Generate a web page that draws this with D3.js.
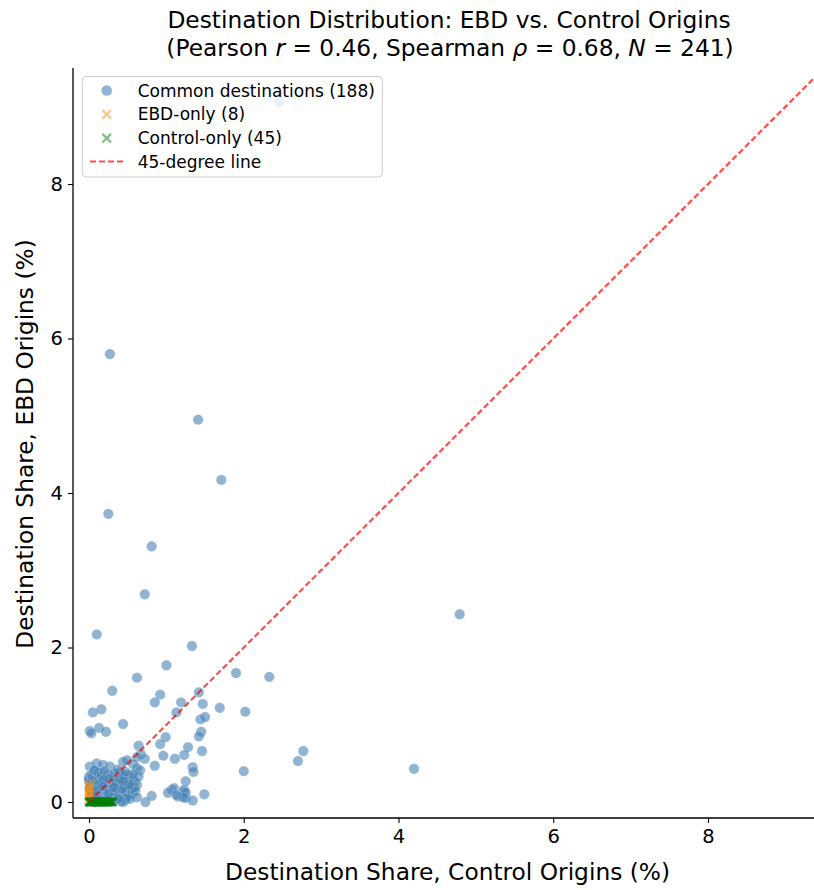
<!DOCTYPE html>
<html>
<head>
<meta charset="utf-8">
<script src="https://cdn.jsdelivr.net/npm/d3@7"></script>
<style>
  html, body { margin: 0; padding: 0; background: #fff; }
  svg { display: block; font-family: "DejaVu Sans", sans-serif; }
</style>
</head>
<body>
<svg id="chart" width="814" height="890"></svg>
<script>
// ---------------- data ----------------
const commonControl = [
  2.46,0.27,1.41,1.71,0.25,0.81,0.72,4.79,0.10,1.33,
  1.00,1.90,2.33,0.62,0.30,1.42,0.92,0.85,1.19,1.47,
  1.69,1.13,2.02,0.05,0.16,1.44,1.50,0.44,0.01,0.03,
  0.13,0.22,1.45,1.42,0.99,0.92,0.64,1.28,2.77,1.46,
  0.67,0.72,0.96,1.23,1.11,2.70,0.44,0.49,0.62,0.85,
  1.34,1.35,2.00,4.20,0.57,0.62,0.66,0.54,0.51,0.01,
  0.10,0.18,0.27,0.08,0.18,0.40,1.25,0.62,1.07,1.10,
  1.15,1.22,1.25,1.49,1.34,0.81,0.73,0.44,1.23,1.25,
  1.22,1.02,0.60,1.13,
  0.00,0.00,0.01,0.00,0.02,0.01,0.03,0.02,0.04,0.05,
  0.06,0.07,0.05,0.08,0.09,0.10,0.11,0.12,0.13,0.14,
  0.15,0.16,0.17,0.18,0.19,0.20,0.21,0.22,0.23,0.24,
  0.25,0.26,0.27,0.28,0.29,0.30,0.31,0.32,0.33,0.34,
  0.35,0.36,0.37,0.38,0.39,0.40,0.41,0.42,0.43,0.44,
  0.45,0.46,0.47,0.48,0.49,0.50,0.51,0.52,0.54,0.55,
  0.56,0.58,0.59,0.60,0.62,0.64,0.05,0.08,0.11,0.14,
  0.03,0.07,0.12,0.16,0.20,0.24,0.28,0.33,0.37,0.31,
  0.22,0.17,0.26,0.35,0.40,0.45,0.48,0.53,0.57,0.42,
  0.09,0.13,0.19,0.27,0.34,0.38,0.43,0.47,0.52,0.10,
  0.18,0.25,0.32,0.44
];
const commonEBD = [
  9.06,5.80,4.95,4.17,3.73,3.31,2.69,2.43,2.17,2.02,
  1.77,1.67,1.62,1.61,1.44,1.42,1.39,1.29,1.29,1.27,
  1.22,1.16,1.17,1.16,1.20,1.07,1.10,1.01,0.92,0.89,
  0.96,0.91,0.91,0.85,0.84,0.75,0.73,0.71,0.66,0.66,
  0.62,0.56,0.60,0.61,0.56,0.53,0.52,0.54,0.58,0.47,
  0.45,0.39,0.40,0.43,0.49,0.44,0.41,0.33,0.35,0.46,
  0.50,0.48,0.46,0.41,0.37,0.39,0.27,0.22,0.16,0.18,
  0.07,0.13,0.05,0.10,0.02,0.08,0.00,0.00,0.16,0.12,
  0.06,0.12,0.26,0.09,
  0.33,0.28,0.25,0.30,0.21,0.18,0.35,0.14,0.27,0.32,
  0.22,0.17,0.10,0.29,0.12,0.24,0.19,0.08,0.31,0.15,
  0.21,0.11,0.26,0.06,0.17,0.13,0.22,0.09,0.28,0.16,
  0.04,0.20,0.12,0.24,0.07,0.18,0.14,0.26,0.10,0.21,
  0.03,0.16,0.29,0.12,0.19,0.07,0.23,0.15,0.31,0.10,
  0.20,0.02,0.26,0.13,0.18,0.24,0.09,0.30,0.16,0.21,
  0.11,0.27,0.19,0.14,0.06,0.33,0.05,0.03,0.02,0.04,
  0.08,0.41,0.38,0.34,0.40,0.36,0.33,0.37,0.42,0.06,
  0.03,0.01,0.30,0.25,0.30,0.35,0.05,0.04,0.36,0.01,
  0.07,0.23,0.29,0.01,0.13,0.04,0.17,0.39,0.22,0.15,
  0.20,0.11,0.19,0.27
];
const ebdOnlyEBD = [0.03,0.06,0.09,0.12,0.14,0.17,0.20,0.23];
const controlOnlyControl = [
  0.00,0.00,0.01,0.01,0.02,0.02,0.03,0.03,0.04,0.05,
  0.05,0.06,0.07,0.07,0.08,0.09,0.09,0.10,0.11,0.11,
  0.12,0.13,0.13,0.14,0.15,0.16,0.16,0.17,0.18,0.19,
  0.19,0.20,0.21,0.22,0.22,0.23,0.24,0.25,0.25,0.26,
  0.27,0.28,0.29,0.30,0.31
];
const xTicks = [0,2,4,6,8];
const yTicks = [0,2,4,6,8];
const legendLabels = ["Common destinations (188)","EBD-only (8)","Control-only (45)","45-degree line"];

// ---------------- layout ----------------
const svg = d3.select("#chart");
const L = 73, R = 814, T = 68, B = 818;
const x = d3.scaleLinear().domain([-0.207, 9.370]).range([L, R]);
const y = d3.scaleLinear().domain([-0.207, 9.502]).range([B, T]);

const defs = svg.append("defs");
defs.append("clipPath").attr("id","clip")
  .append("rect").attr("x",L).attr("y",T).attr("width",R-L).attr("height",B-T);

const plot = svg.append("g").attr("clip-path","url(#clip)");

// common
const common = commonControl.map((c,i)=>({c, e: commonEBD[i]}));
plot.append("g").selectAll("circle").data(common).join("circle")
  .attr("cx", d=>x(d.c)).attr("cy", d=>y(d.e)).attr("r", 5.2)
  .attr("fill", "#4682b4").attr("fill-opacity", 0.6)
  .attr("stroke", "#fff").attr("stroke-width", 0.4).attr("stroke-opacity", 0.6);

function xMark(g, cx, cy, s, color, op) {
  g.append("path")
    .attr("d", `M${cx-s},${cy-s}L${cx+s},${cy+s}M${cx-s},${cy+s}L${cx+s},${cy-s}`)
    .attr("stroke", color).attr("stroke-width", 2.2).attr("stroke-opacity", op)
    .attr("fill","none");
}
const gE = plot.append("g");
ebdOnlyEBD.forEach(v => xMark(gE, x(0), y(v), 4, "#ff8c00", 0.5));
const gC = plot.append("g");
controlOnlyControl.forEach(v => xMark(gC, x(v), y(0), 4, "#008000", 0.5));

// 45-degree line
plot.append("line")
  .attr("x1", x(0)).attr("y1", y(0)).attr("x2", x(9.6)).attr("y2", y(9.6))
  .attr("stroke", "#ff0000").attr("stroke-opacity", 0.7)
  .attr("stroke-width", 2.2).attr("stroke-dasharray", "6,3");

// axes
const xAxis = svg.append("g").attr("transform", `translate(0,${B})`)
  .call(d3.axisBottom(x).tickValues(xTicks).tickFormat(d3.format("d")).tickSize(5).tickPadding(6));
const yAxis = svg.append("g").attr("transform", `translate(${L},0)`)
  .call(d3.axisLeft(y).tickValues(yTicks).tickFormat(d3.format("d")).tickSize(5).tickPadding(5));
[xAxis, yAxis].forEach(a => {
  a.select(".domain").attr("stroke","#000").attr("stroke-width",1.3);
  a.selectAll(".tick line").attr("stroke","#000").attr("stroke-width",1.1);
  a.selectAll(".tick text").attr("fill","#000")
    .style("font-family","DejaVu Sans").style("font-size","19.5px");
});
xAxis.select(".domain").attr("d", `M${L},0H${R}`);
yAxis.select(".domain").attr("d", `M0,${T}V${B}`);

// axis labels
svg.append("text").attr("x", 447.5).attr("y", 880).attr("text-anchor","middle")
  .style("font-size","23.3px").text("Destination Share, Control Origins (%)");
svg.append("text").attr("transform", `translate(33,444) rotate(-90)`)
  .attr("text-anchor","middle").style("font-size","23.3px")
  .text("Destination Share, EBD Origins (%)");

// title
const t1 = svg.append("text").attr("x", 449).attr("y", 28).attr("text-anchor","middle")
  .style("font-size","23.3px").text("Destination Distribution: EBD vs. Control Origins");
const t2 = svg.append("text").attr("x", 450).attr("y", 55.5).attr("text-anchor","middle")
  .style("font-size","23.3px");
t2.append("tspan").text("(Pearson ");
t2.append("tspan").style("font-style","italic").text("r");
t2.append("tspan").text(" = 0.46, Spearman ");
t2.append("tspan").style("font-style","italic").text("ρ");
t2.append("tspan").text(" = 0.68, ");
t2.append("tspan").style("font-style","italic").text("N");
t2.append("tspan").text(" = 241)");

// legend
const lg = svg.append("g");
lg.append("rect").attr("x", 82.3).attr("y", 76.5).attr("width", 300).attr("height", 100.5)
  .attr("rx", 4).attr("fill", "#fff").attr("fill-opacity", 0.8)
  .attr("stroke", "#cccccc").attr("stroke-width", 1);
const rows = [90.5, 114.3, 138.2, 161.5];
lg.append("circle").attr("cx", 106.7).attr("cy", rows[0]).attr("r", 5.3)
  .attr("fill", "#4682b4").attr("fill-opacity", 0.6);
xMark(lg, 106.7, rows[1], 4.3, "#ff8c00", 0.5);
xMark(lg, 106.7, rows[2], 4.3, "#008000", 0.5);
lg.append("line").attr("x1", 90).attr("x2", 123.5).attr("y1", rows[3]).attr("y2", rows[3])
  .attr("stroke", "#ff0000").attr("stroke-opacity", 0.7).attr("stroke-width", 2.2)
  .attr("stroke-dasharray", "6,3");
legendLabels.forEach((s,i) => {
  lg.append("text").attr("x", 137.7).attr("y", rows[i]).attr("dy","0.36em")
    .style("font-size","17px").attr("fill","#000").text(s);
});
</script>
</body>
</html>
